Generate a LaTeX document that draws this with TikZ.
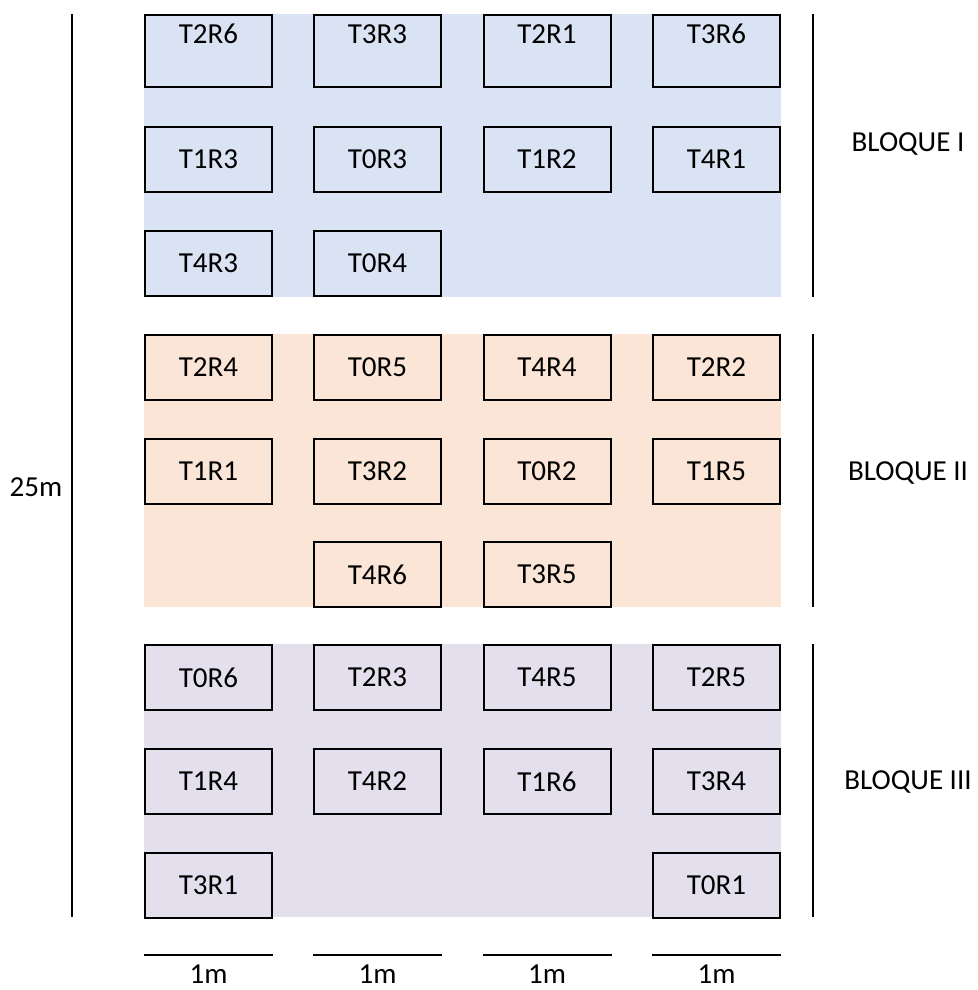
\documentclass[tikz,border=0pt]{standalone}
\usepackage{fontspec}
\setmainfont{Carlito}
\definecolor{bgblue}{HTML}{DAE3F3}
\definecolor{bgorange}{HTML}{FBE5D6}
\definecolor{bgpurple}{HTML}{E4DFEC}
\begin{document}
\begin{tikzpicture}[x=1pt,y=-1pt,
  plotbox/.style={draw=black,line width=2pt,minimum width=127pt,minimum height=65pt,inner sep=0pt,font=\fontsize{29}{35}\selectfont},
  tallbox/.style={plotbox,minimum height=72pt},
  lbl/.style={inner sep=0pt,font=\fontsize{29}{35}\selectfont},
  ruleline/.style={line width=2pt}]
\useasboundingbox (0,0) rectangle (977,990);
% backgrounds
\fill[bgblue] (144,14) rectangle (781,297);
\fill[bgorange] (144,334) rectangle (781,607);
\fill[bgpurple] (144,644) rectangle (781,917);
% Block I
\node[tallbox] (B1) at (208.5,51) {};
\node[tallbox] (B2) at (377.5,51) {};
\node[tallbox] (B3) at (547,51) {};
\node[tallbox] (B4) at (716.5,51) {};
\node[lbl] (T2R6a) at (208.5,34) {T2R6};
\node[lbl] (T3R3) at (377.5,34) {T3R3};
\node[lbl] (T2R1) at (547,34) {T2R1};
\node[lbl] (T3R6) at (716.5,34) {T3R6};
\node[plotbox] (T1R3) at (208.5,159) {T1R3};
\node[plotbox] (T0R3) at (377.5,159) {T0R3};
\node[plotbox] (T1R2) at (547,159) {T1R2};
\node[plotbox] (T4R1) at (716.5,159) {T4R1};
\node[plotbox] (T4R3) at (208.5,263.5) {T4R3};
\node[plotbox] (T0R4) at (377.5,263.5) {T0R4};
% Block II
\node[plotbox] (T2R4) at (208.5,367.5) {T2R4};
\node[plotbox] (T0R5) at (377.5,367.5) {T0R5};
\node[plotbox] (T4R4) at (547,367.5) {T4R4};
\node[plotbox] (T2R2) at (716.5,367.5) {T2R2};
\node[plotbox] (T1R1) at (208.5,471.5) {T1R1};
\node[plotbox] (T3R2) at (377.5,471.5) {T3R2};
\node[plotbox] (T0R2) at (547,471.5) {T0R2};
\node[plotbox] (T1R5) at (716.5,471.5) {T1R5};
\node[plotbox] (T4R6) at (377.5,574.5) {T4R6};
\node[plotbox] (T3R5) at (547,574.5) {T3R5};
% Block III
\node[plotbox] (T0R6) at (208.5,677.5) {T0R6};
\node[plotbox] (T2R3) at (377.5,677.5) {T2R3};
\node[plotbox] (T4R5) at (547,677.5) {T4R5};
\node[plotbox] (T2R5) at (716.5,677.5) {T2R5};
\node[plotbox] (T1R4) at (208.5,781.5) {T1R4};
\node[plotbox] (T4R2) at (377.5,781.5) {T4R2};
\node[plotbox] (T1R6) at (547,781.5) {T1R6};
\node[plotbox] (T3R4) at (716.5,781.5) {T3R4};
\node[plotbox] (T3R1) at (208.5,885) {T3R1};
\node[plotbox] (T0R1) at (716.5,885) {T0R1};
% dimension lines
\coordinate (L1) at (72,14); \coordinate (L2) at (72,917);
\draw[ruleline] (L1) -- (L2);
\node[lbl] (len) at (36,487) {25m};
\coordinate (RA1) at (813,14); \coordinate (RA2) at (813,297);
\coordinate (RB1) at (813,334); \coordinate (RB2) at (813,607);
\coordinate (RC1) at (813,644); \coordinate (RC2) at (813,917);
\draw[ruleline] (RA1) -- (RA2);
\draw[ruleline] (RB1) -- (RB2);
\draw[ruleline] (RC1) -- (RC2);
\node[lbl] (bI) at (908,144) {BLOQUE I};
\node[lbl] (bII) at (908,473) {BLOQUE II};
\node[lbl] (bIII) at (908,782) {BLOQUE III};
\foreach \cx [count=\i] in {208.5,377.5,547,716.5}{
  \coordinate (W\i a) at (\cx-64.5,955);
  \coordinate (W\i b) at (\cx+64.5,955);
  \draw[ruleline] (W\i a) -- (W\i b);
  \node[lbl] (w\i) at (\cx,974) {1m};
}
\end{tikzpicture}
\end{document}
